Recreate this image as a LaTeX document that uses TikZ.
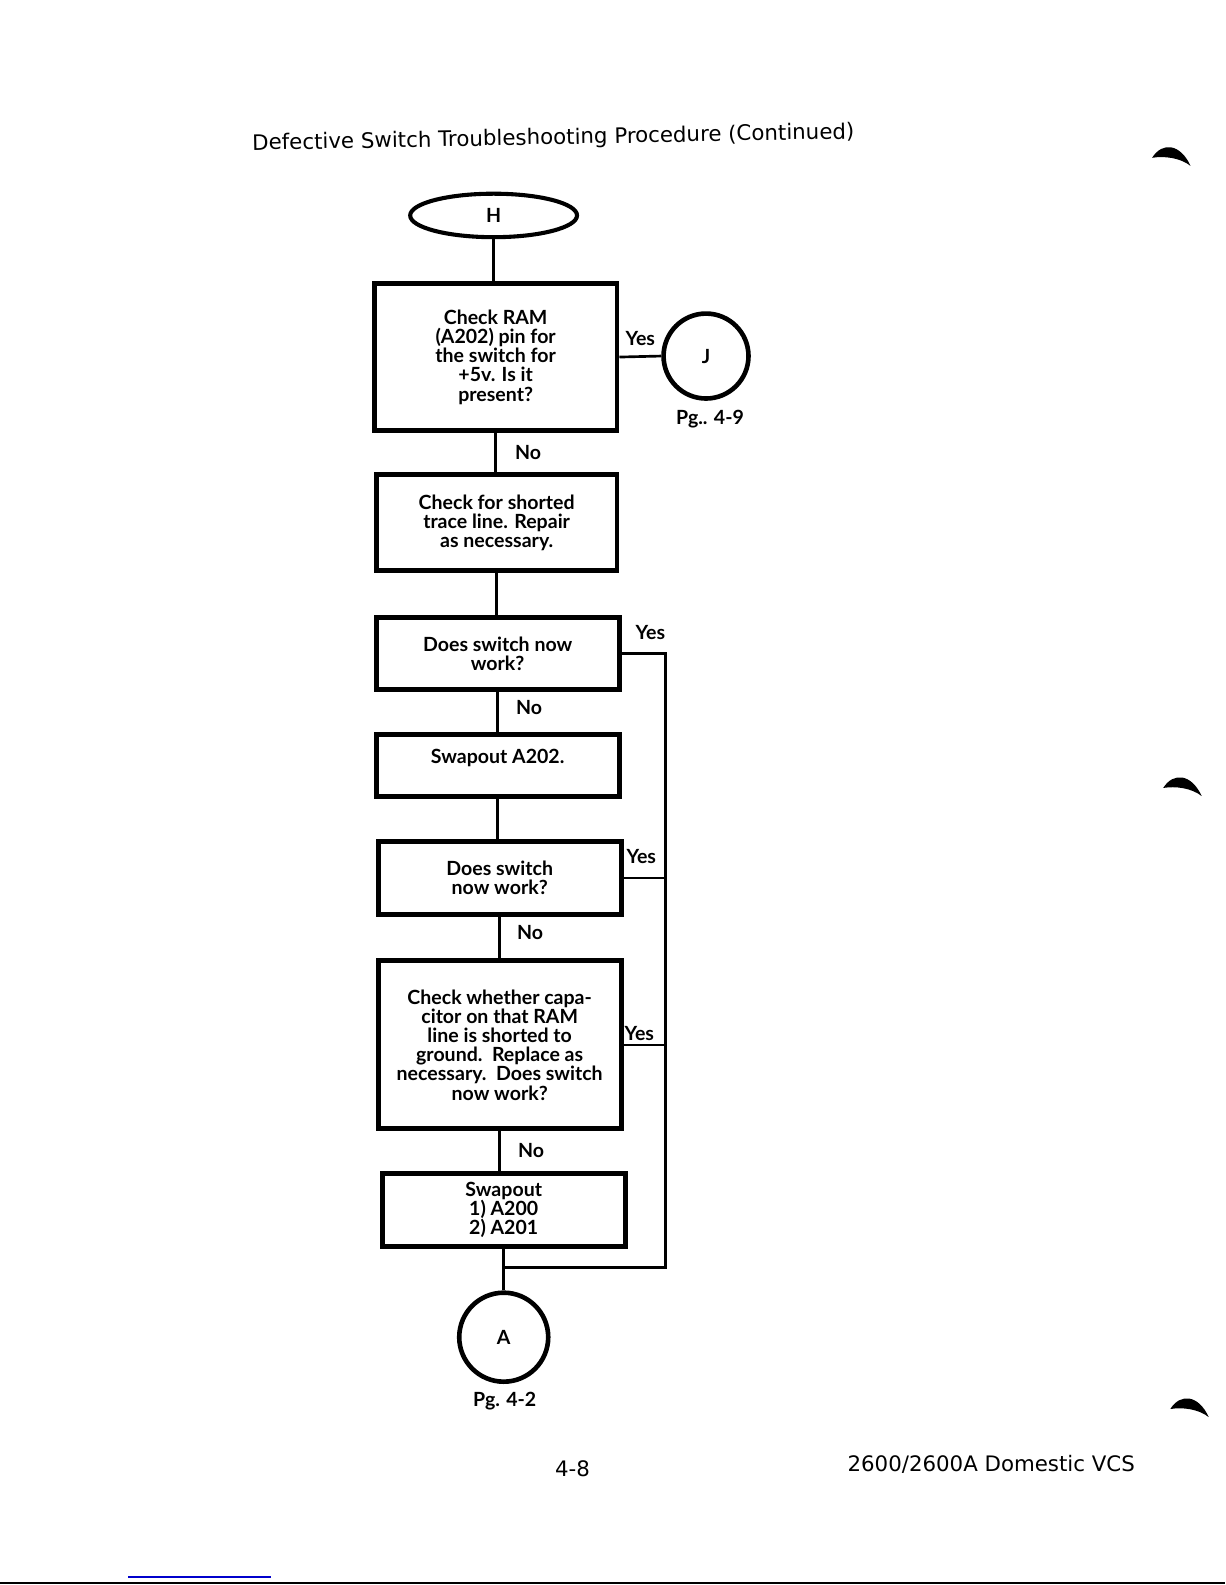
\documentclass[tikz,border=0pt]{standalone}
\usepackage{fontspec}
\setmainfont{DejaVu Sans}
\newfontfamily\chartfont{Lato}
\usetikzlibrary{shapes.geometric}
\begin{document}
\begin{tikzpicture}
[x=0.02cm,y=-0.02cm,every node/.style={font=\chartfont\bfseries\fontsize{11}{10.8}\selectfont},
stepbox/.style={draw,line width=2.8pt,align=center,inner sep=0pt,minimum width=4.8cm},
conn/.style={draw,circle,line width=2.6pt,inner sep=0pt},
line/.style={line width=1.5pt}]
\useasboundingbox (0,0) rectangle (1211.5,1567);
\node[rotate=1.1,font=\fontsize{12}{14}\selectfont] (title) at (547,137) {Defective Switch Troubleshooting Procedure (Continued)};
\node[draw,ellipse,line width=2.3pt,minimum width=3.3cm,minimum height=0.86cm] (H) at (488,213) {H};
\node[stepbox,minimum height=2.92cm] (q1) at (490,353) {Check RAM\\(A202) pin for\\the switch for\\+5v. Is it\\present?};
\node[stepbox,minimum width=4.76cm,minimum height=1.9cm] (fix) at (491,517) {Check for shorted\\trace line. Repair\\as necessary.};
\node[stepbox,minimum height=1.44cm] (q3) at (492,646) {Does switch now\\work?};
\node[stepbox,minimum height=1.22cm] (swap1) at (492,757) {Swapout A202.\\~};
\node[stepbox,minimum height=1.46cm] (q5) at (494,868) {Does switch\\now work?};
\node[stepbox,minimum height=3.32cm] (q6) at (494,1033) {Check whether capa-\\citor on that RAM\\line is shorted to\\ground.\ \ Replace as\\necessary.\ \ Does switch\\now work?};
\node[stepbox,minimum height=1.44cm] (swap2) at (498,1196) {Swapout\\1) A200\\2) A201};
\node[conn,minimum size=1.68cm] (J) at (698,352) {J};
\node[conn,minimum size=1.76cm] (A) at (498,1322) {A};
\node (pgJ) at (702,414) {Pg.. 4-9};
\node (pgA) at (499,1385) {Pg. 4-2};
\node (yes1) at (633,335) {Yes};
\node (yes3) at (643,625) {Yes};
\node (yes5) at (634,847) {Yes};
\node (yes6) at (632,1022) {Yes};
\node (no1) at (522,447) {No};
\node (no3) at (523,699) {No};
\node (no5) at (524,922) {No};
\node (no6) at (525,1137) {No};
\node[font=\fontsize{12}{14}\selectfont] (page) at (566,1452) {4-8};
\node[font=\fontsize{12}{14}\selectfont] (model) at (980,1448) {2600/2600A Domestic VCS};
\coordinate (bus) at (658,1253);
\coordinate (join) at (498,1253);
\foreach \from/\to in {H/q1,q1/fix,fix/q3,q3/swap1,swap1/q5,q5/q6,q6/swap2,swap2/A}
\draw[line] (\from.south) -- (\from.south |- \to.north);
\draw[line] (q1.east) -- (J.west);
\draw[line] (q3.east) -| (bus) -- (join);
\draw[line] (q5.east) -- (q5.east -| bus);
\draw[line] (q6.east) -- (q6.east -| bus);
\foreach \px/\py in {1139/156,1150/779,1157/1393}
\fill[shift={(\px,\py)}] (0,0) .. controls (10,-16) and (28,-14) .. (38,8) .. controls (28,0) and (12,-2) .. (0,0);
\draw[blue!80!black,line width=0.8pt] (127,1559) -- (268,1559);
\draw[line width=1.2pt] (0,1565) -- (1211.5,1565);
\end{tikzpicture}
\end{document}
